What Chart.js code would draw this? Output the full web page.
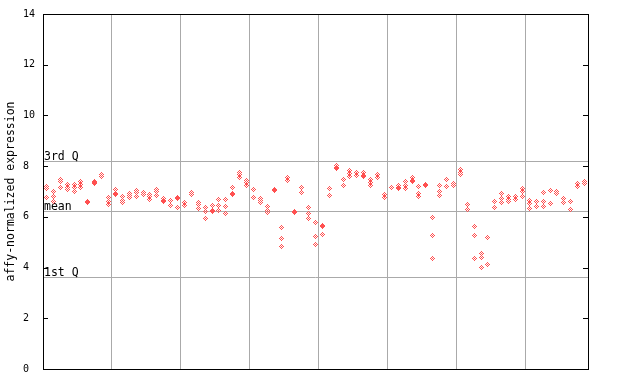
<!DOCTYPE html>
<html>
<head>
<meta charset="utf-8">
<script src="https://cdn.jsdelivr.net/npm/chart.js@4/dist/chart.umd.min.js"></script>
<style>
  html, body { margin: 0; padding: 0; background: #fff; }
  canvas { display: block; }
</style>
</head>
<body>
<canvas id="expr" width="640" height="384"></canvas>
<script>
// one array per block between two vertical grid lines, one inner list per sample column
const groupA = [
    [7.18, 7.10, 6.76], [7.00, 6.79, 6.61], [7.47, 7.38, 7.16], [7.27, 7.16, 7.08], [7.27, 7.16, 7.00],
    [7.38, 7.29, 7.16], [6.58, 6.60], [7.38, 7.35, 7.30], [7.67, 7.58], [6.75, 6.62, 6.49],
];
const groupB = [
    [7.08, 6.92, 6.90], [6.79, 6.66, 6.55], [6.92, 6.83, 6.76], [7.05, 6.95, 6.79], [6.97, 6.88],
    [6.88, 6.79, 6.70], [7.08, 7.01, 6.86], [6.71, 6.63, 6.62], [6.66, 6.46], [6.75, 6.72, 6.37],
];
const groupC = [
    [6.55, 6.43], [6.97, 6.95, 6.88], [6.57, 6.48, 6.33], [6.37, 6.23, 5.94], [6.43, 6.24, 6.22],
    [6.69, 6.46, 6.25], [6.69, 6.42, 6.13], [7.16, 6.91, 6.89], [7.76, 7.67, 7.56], [7.45, 7.35, 7.25],
];
const groupD = [
    [7.08, 6.76], [6.74, 6.66, 6.55], [6.40, 6.27, 6.16], [7.06, 7.04, 7.02], [5.58, 5.15, 4.84],
    [7.55, 7.45, 7.43], [6.23, 6.19], [7.16, 6.95], [6.37, 6.13, 5.92], [5.78, 5.24, 4.92],
];
const groupE = [
    [5.64, 5.62, 5.31], [7.12, 6.84], [8.02, 7.93, 7.92], [7.48, 7.46, 7.23], [7.83, 7.71, 7.61],
    [7.75, 7.63], [7.75, 7.63, 7.61], [7.47, 7.34, 7.23], [7.66, 7.56, 7.54], [6.89, 6.78, 6.76],
];
const groupF = [
    [7.17, 7.15], [7.24, 7.14, 7.12], [7.41, 7.24, 7.13], [7.55, 7.42, 7.40], [7.20, 6.92, 6.80],
    [7.26, 7.24], [5.98, 5.27, 4.36], [7.24, 6.99, 6.83], [7.48, 7.46, 7.18], [7.31, 7.24],
];
const groupG = [
    [7.87, 7.76, 7.67], [6.50, 6.30], [5.62, 5.27, 4.36], [4.55, 4.40, 4.01], [5.19, 4.13],
    [6.61, 6.37], [6.92, 6.72, 6.57], [6.79, 6.70, 6.61], [6.79, 6.70, 6.68], [7.10, 7.00, 6.80],
];
const groupH = [
    [6.65, 6.51, 6.33], [6.62, 6.60, 6.40], [6.95, 6.59, 6.41], [7.05, 7.03, 6.53], [7.00, 6.91],
    [6.74, 6.58], [6.61, 6.30, 6.28], [7.31, 7.21], [7.38, 7.30],
];

const yTicks = [0, 2, 4, 6, 8, 10, 12, 14];
const blockEdges = [10, 20, 30, 40, 50, 60, 70];
const refLines = [
    { label: '3rd Q', value: 8.22 },
    { label: 'mean', value: 6.23 },
    { label: '1st Q', value: 3.63 },
];

const RED = 'rgb(255,80,80)';
const GRID = '#aaaaaa';
const MONO = "'DejaVu Sans Mono', 'Liberation Mono', monospace";

// little checkered diamond, like the original bitmap marker
function diamondSprite() {
    const c = document.createElement('canvas');
    c.width = 7;
    c.height = 7;
    const g = c.getContext('2d');
    g.fillStyle = RED;
    for (let y = 0; y < 7; y++) {
        for (let x = 0; x < 7; x++) {
            if (Math.abs(x - 3) + Math.abs(y - 3) <= 3 && (x + y) % 2 === 0) {
                g.fillRect(x, y, 1, 1);
            }
        }
    }
    return c;
}

const columns = [].concat(groupA, groupB, groupC, groupD, groupE, groupF, groupG, groupH);
const points = [];
columns.forEach(function (vals, i) {
    vals.forEach(function (v) {
        points.push({ x: i + 0.5, y: v });
    });
});

const framePlugin = {
    id: 'frame',
    beforeDatasetsDraw(chart) {
        const ctx = chart.ctx;
        const a = chart.chartArea;
        const ys = chart.scales.y;
        ctx.save();
        ctx.strokeStyle = GRID;
        ctx.lineWidth = 1;
        ctx.fillStyle = '#000';
        ctx.font = '11.5px ' + MONO;
        ctx.textBaseline = 'bottom';
        ctx.textAlign = 'left';
        refLines.forEach(function (r) {
            const py = Math.round(ys.getPixelForValue(r.value)) + 0.5;
            ctx.beginPath();
            ctx.moveTo(a.left, py);
            ctx.lineTo(a.right, py);
            ctx.stroke();
            ctx.fillText(r.label, a.left + 1, py + 1);
        });
        ctx.restore();
        // keep the bitmap markers crisp
        ctx.imageSmoothingEnabled = false;
    },
    afterDatasetsDraw(chart) {
        chart.ctx.imageSmoothingEnabled = true;
    },
    afterDraw(chart) {
        const ctx = chart.ctx;
        const a = chart.chartArea;
        const ys = chart.scales.y;
        ctx.save();
        ctx.strokeStyle = '#000';
        ctx.lineWidth = 1;
        ctx.strokeRect(Math.round(a.left) + 0.5, Math.round(a.top) + 0.5,
            Math.round(a.right - a.left), Math.round(a.bottom - a.top));
        ctx.beginPath();
        yTicks.forEach(function (t) {
            const py = Math.round(ys.getPixelForValue(t)) + 0.5;
            ctx.moveTo(a.left, py);
            ctx.lineTo(a.left + 5, py);
            ctx.moveTo(a.right - 5, py);
            ctx.lineTo(a.right, py);
        });
        ctx.stroke();
        ctx.restore();
    },
};

new Chart(document.getElementById('expr'), {
    type: 'scatter',
    data: {
        datasets: [
            {
                data: points,
                pointStyle: diamondSprite(),
                pointRadius: 3.5,
                pointHoverRadius: 3.5,
            },
        ],
    },
    options: {
        responsive: false,
        animation: false,
        devicePixelRatio: 1,
        layout: { padding: { left: 0, right: 52, top: 13, bottom: 15 } },
        plugins: {
            legend: { display: false },
            tooltip: { enabled: false },
        },
        scales: {
            x: {
                type: 'linear',
                min: 0,
                max: 79,
                afterBuildTicks(scale) {
                    scale.ticks = blockEdges.map(function (v) { return { value: v }; });
                },
                afterFit(scale) {
                    scale.height = 0;
                },
                ticks: { display: false },
                grid: { color: GRID, lineWidth: 1, drawTicks: false },
                border: { display: false },
            },
            y: {
                min: 0,
                max: 14,
                afterBuildTicks(scale) {
                    scale.ticks = yTicks.map(function (v) { return { value: v }; });
                },
                afterFit(scale) {
                    scale.width = 43;
                },
                ticks: {
                    color: '#000',
                    padding: 8,
                    font: { family: MONO, size: 10 },
                    callback(v) {
                        return v < 10 ? v + ' ' : String(v);
                    },
                },
                grid: { display: false, drawTicks: false },
                border: { display: false },
                title: {
                    display: true,
                    text: 'affy-normalized expression',
                    color: '#000',
                    font: { family: MONO, size: 11.5 },
                    padding: { top: 4, bottom: 0 },
                },
            },
        },
    },
    plugins: [framePlugin],
});
</script>
</body>
</html>
